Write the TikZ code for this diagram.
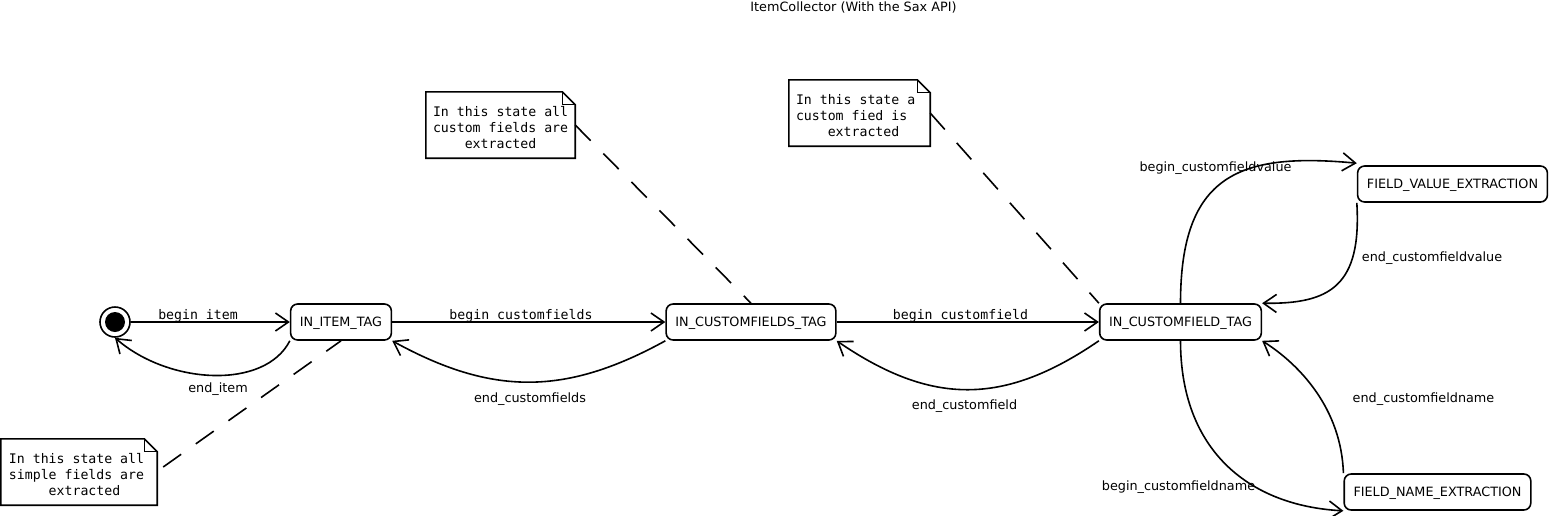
\documentclass[tikz,border=0pt]{standalone}
\usepackage{fontspec}
\setmainfont{DejaVu Sans}
\setmonofont{DejaVu Sans Mono}
\usetikzlibrary{arrows.meta}
\newcommand\monosetup{\ttfamily\fontsize{13.2}{16}\selectfont\spaceskip=\fontcharwd\font`x\relax\xspaceskip=\fontcharwd\font`x\relax}
\newcommand\mindent[1]{\hspace*{#1\fontcharwd\font`x}}
\begin{document}
\begin{tikzpicture}[x=1pt,y=-1pt,
  sansf/.style={font=\fontsize{12.8}{16}\selectfont},
  monof/.style={font=\monosetup},
  stbox/.style={sansf, draw, rounded corners=7pt, line width=1.6pt, minimum height=36pt, inner xsep=9.3pt, inner ysep=0pt, text height=9.5pt, text depth=1.5pt},
  lab/.style={sansf, inner sep=0pt, text height=9.5pt, text depth=3pt},
  mlab/.style={monof, inner sep=0pt, text height=9.5pt, text depth=3pt},
  notebox/.style={inner sep=0pt, minimum height=66pt},
  notetext/.style={monof, inner sep=0pt, align=left},
  notebd/.style={line width=1.6pt, line join=miter},
  arr/.style={line width=1.6pt, -{Straight Barb[length=13pt,width=18pt,line width=1.6pt]}},
  dsh/.style={line width=1.6pt, dash pattern=on 22pt off 18pt}
]
\useasboundingbox (0,0) rectangle (1549,515);

% title
\node[sansf, inner sep=0pt] (title) at (853.5,7) {ItemCollector (With the Sax API)};

% states
\node[draw, circle, minimum size=30pt, inner sep=0pt, line width=1.6pt] (init) at (115,322) {};
\fill (init.center) circle (10pt);
\node[stbox] (item) at (341,322) {IN\_ITEM\_TAG};
\node[stbox] (cfs) at (751,322) {IN\_CUSTOMFIELDS\_TAG};
\node[stbox] (cf) at (1180.5,322) {IN\_CUSTOMFIELD\_TAG};
\node[stbox] (fv) at (1452.5,184) {FIELD\_VALUE\_EXTRACTION};
\node[stbox] (fn) at (1437.5,492) {FIELD\_NAME\_EXTRACTION};

% notes
\node[notebox, minimum width=156pt] (n1) at (79,472) {};
\node[notebox, minimum width=149pt] (n2) at (500.5,125) {};
\node[notebox, minimum width=141pt] (n3) at (859.5,113) {};
\node[notetext, anchor=west] (t1) at ([xshift=8pt,yshift=-3pt]n1.west) {In this state all\\simple fields are\\\mindent{5}extracted};
\node[notetext, anchor=west] (t2) at ([xshift=7pt,yshift=-3pt]n2.west) {In this state all\\custom fields are\\\mindent{4}extracted};
\node[notetext, anchor=west] (t3) at ([xshift=7pt,yshift=-3pt]n3.west) {In this state a\\custom fied is\\\mindent{4}extracted};
\foreach \n in {n1,n2,n3}{
  \draw[notebd] (\n.north west) -- ([xshift=-13pt]\n.north east) -- ([yshift=-13pt]\n.north east) -- (\n.south east) -- (\n.south west) -- cycle;
  \draw[line width=0.8pt] ([xshift=-13pt]\n.north east) -- ([xshift=-13pt,yshift=-13pt]\n.north east) -- ([yshift=-13pt]\n.north east);
}

% note connectors
\draw[dsh] ([xshift=6pt,yshift=5pt]n1.east) -- (item.south);
\draw[dsh] (n2.east) -- (cfs.north);
\draw[dsh] (n3.east) -- (cf.north west);

% transitions
\draw[arr] (init.east) -- (item.west);
\node[mlab] (l1) at (198,316) {begin\_item};

\draw[arr] (item.south west) .. controls +(-25,49) and +(54,47) .. (init.south);
\node[lab] (l2) at (218,389) {end\_item};

\draw[arr] (item.east) -- (cfs.west);
\node[mlab] (l3) at (521,316) {begin\_customfields};

\draw[arr] (cfs.south west) .. controls +(-100,55) and +(100,55) .. (item.south east);
\node[lab] (l4) at (530,399) {end\_customfields};

\draw[arr] (cfs.east) -- (cf.west);
\node[mlab] (l5) at (960.5,316) {begin\_customfield};

\draw[arr] (cf.south west) .. controls +(-95,65) and +(95,65) .. (cfs.south east);
\node[lab] (l6) at (964.5,406) {end\_customfield};

\draw[arr] (cf.north) .. controls +(0,-129) and +(-117,-11) .. ([yshift=2pt]fv.north west);
\node[lab] (l7) at (1215.5,168) {begin\_customfieldvalue};

\draw[arr] (fv.south west) .. controls +(5,83) and +(68,1) .. (cf.north east);
\node[lab] (l8) at (1432,258) {end\_customfieldvalue};

\draw[arr] (cf.south) .. controls +(0,110) and +(-94,-5) .. (fn.south west);
\node[lab] (l9) at (1178.5,487) {begin\_customfieldname};

\draw[arr] (fn.north west) .. controls +(-2,-64) and +(38,24) .. (cf.south east);
\node[lab] (l10) at (1423.5,399) {end\_customfieldname};
\end{tikzpicture}
\end{document}
